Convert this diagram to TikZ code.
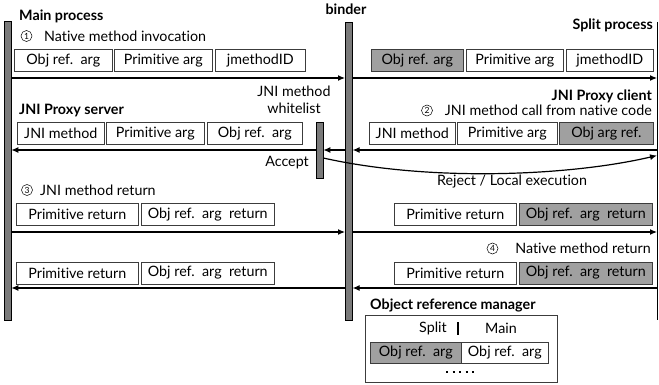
\documentclass[tikz,border=0pt]{standalone}
\usepackage{fontspec}
\setmainfont{Lato}[Ligatures={NoCommon,NoRequired,NoContextual}]
\usetikzlibrary{arrows.meta}
\definecolor{boxgray}{RGB}{160,160,160}
\definecolor{bargray}{RGB}{122,122,122}
\definecolor{edge}{RGB}{60,60,60}
\tikzset{
  x=1pt, y=-1pt,
  every node/.style={font=\fontsize{14.3}{17}\selectfont, inner sep=0pt},
  fbox/.style={draw=edge, line width=0.6pt, fill=white, minimum height=22pt, anchor=west},
  gbox/.style={fbox, fill=boxgray},
  lifebar/.style={draw=black, line width=0.6pt, fill=bargray, minimum width=7pt},
  msg/.style={line width=1.2pt, -{Latex[length=7pt,width=6pt]}},
  title/.style={font=\fontsize{14.3}{17}\selectfont\bfseries},
  circ/.style={circle, draw=black, line width=0.5pt, minimum size=11pt, font=\fontsize{8.5}{9}\selectfont},
}
\begin{document}
\begin{tikzpicture}
\useasboundingbox (0,0) rectangle (659,385);

% lifelines
\node[lifebar, minimum height=299pt] (main) at (7.5,170.5) {};
\node[lifebar, minimum height=298pt] (binder) at (348.8,171) {};
\node[lifebar, minimum height=56pt] (wl) at (319.5,150) {};
\coordinate (spT) at (657,22);
\coordinate (spB) at (657,320);
\draw[line width=0.8pt] (spT) -- (spB);

% headings
\node[title, anchor=west] (tmain) at (19,16) {Main process};
\node[title] (tbinder) at (346,9) {binder};
\node[title, anchor=east] (tsplit) at (653,25) {Split process};
\node[title, anchor=west] (tserver) at (19,111) {JNI Proxy server};
\node[title, anchor=east] (tclient) at (652,96) {JNI Proxy client};
\node[align=center] (twl) at (294,99.5) {JNI method\\whitelist};

% step 1
\node[circ] (c1) at (26.5,36) {1};
\node[anchor=west] (s1) at (44,36) {Native method invocation};
\node[fbox, minimum width=98pt] (a1) at (14,60.5) {Obj ref.~~arg};
\node[fbox, minimum width=98pt] (a2) at (114,60.5) {Primitive arg};
\node[fbox, minimum width=90pt] (a3) at (215,60.5) {jmethodID};
\node[gbox, minimum width=92pt] (b1) at (371,60.5) {Obj ref. arg};
\node[fbox, minimum width=97pt] (b2) at (466,60.5) {Primitive arg};
\node[fbox, minimum width=87pt] (b3) at (566,60.5) {jmethodID};
\draw[msg] (main.east |- 0,78) -- (binder.west |- 0,78);
\draw[msg] (binder.east |- 0,78) -- (spT |- 0,78);

% step 2
\node[circ] (c2) at (427,110.5) {2};
\node[anchor=east] (s2) at (652,110.5) {JNI method call from native code};
\node[fbox, minimum width=87pt] (d1) at (17,133.5) {JNI method};
\node[fbox, minimum width=98pt] (d2) at (106,133.5) {Primitive arg};
\node[fbox, minimum width=95pt] (d3) at (207,133.5) {Obj ref.~~arg};
\node[fbox, minimum width=86pt] (e1) at (369,133.5) {JNI method};
\node[fbox, minimum width=100pt] (e2) at (457,133.5) {Primitive arg};
\node[gbox, minimum width=94pt] (e3) at (559,133.5) {Obj arg ref.};
\draw[msg] (spT |- 0,150) -- (binder.east |- 0,150);
\draw[msg] (binder.west |- 0,150) -- (wl.east |- 0,150);
\draw[msg] (wl.west |- 0,150) -- (main.east |- 0,150);
\node[anchor=east] (tacc) at (309,163) {Accept};
\draw[msg] (wl.east |- 0,158) .. controls (430,182) and (570,176) .. (spT |- 0,155.5);
\node (trej) at (512,182) {Reject / Local execution};

% step 3
\node[circ] (c3) at (27,190) {3};
\node[anchor=west] (s3) at (40,190) {JNI method return};
\node[fbox, minimum width=122pt] (f1) at (16,214.5) {Primitive return};
\node[fbox, minimum width=133pt] (f2) at (141,214.5) {Obj ref.~~arg~~return};
\node[fbox, minimum width=122pt] (g1) at (394,214.5) {Primitive return};
\node[gbox, minimum width=133pt] (g2) at (519,214.5) {Obj ref.~~arg~~return};
\draw[msg] (main.east |- 0,232) -- (binder.west |- 0,232);
\draw[msg] (binder.east |- 0,232) -- (spT |- 0,232);

% step 4
\node[circ] (c4) at (492.5,248.5) {4};
\node[anchor=east] (s4) at (651,248.5) {Native method return};
\node[fbox, minimum width=122pt] (h1) at (16,273) {Primitive return};
\node[fbox, minimum width=133pt] (h2) at (141,273) {Obj ref.~~arg~~return};
\node[fbox, minimum width=122pt] (k1) at (394,273) {Primitive return};
\node[gbox, minimum width=133pt] (k2) at (519,273) {Obj ref.~~arg~~return};
\draw[msg] (spT |- 0,288) -- (binder.east |- 0,288);
\draw[msg] (binder.west |- 0,288) -- (main.east |- 0,288);

% object reference manager
\node[title, anchor=west] (tmgr) at (370,305) {Object reference manager};
\node[draw=edge, line width=0.6pt, minimum width=192pt, minimum height=67pt] (mgr) at (461,348.5) {};
\node (msplit) at (433,328) {Split};
\coordinate (sepT) at (458,322);
\coordinate (sepB) at (458,335);
\draw[line width=1.6pt] (sepT) -- (sepB);
\node (mmain) at (501,328) {Main};
\node[gbox, minimum width=91pt, minimum height=21pt] (m1) at (370,352.5) {Obj ref.~~arg};
\node[fbox, minimum width=87pt, minimum height=21pt] (m2) at (461,352.5) {Obj ref.~~arg};
\coordinate (dotL) at (446,372);
\coordinate (dotR) at (478,372);
\draw[line width=2pt, dash pattern=on 2pt off 4.5pt] (dotL) -- (dotR);
\end{tikzpicture}
\end{document}
